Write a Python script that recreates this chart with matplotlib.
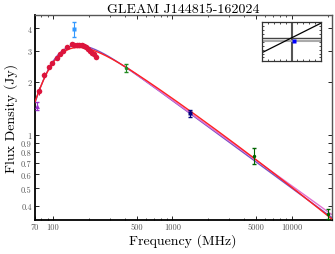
import numpy as np
import matplotlib
matplotlib.use("Agg")
import matplotlib.pyplot as plt
from matplotlib.ticker import FixedLocator, FixedFormatter, NullFormatter

plt.rcParams['font.family'] = 'serif'
plt.rcParams['font.serif'] = ['cmr10']
plt.rcParams['mathtext.fontset'] = 'cm'
plt.rcParams['axes.unicode_minus'] = False

# GLEAM sub-bands (MHz, Jy)
gleam_freq = [76, 84, 92, 99, 107, 115, 122, 130, 143, 151, 158, 166, 174, 181, 189, 197, 204, 212, 220, 227]
gleam_flux = [1.77, 2.18, 2.42, 2.55, 2.72, 2.88, 3.0, 3.15, 3.25, 3.24, 3.24, 3.23, 3.21, 3.2, 3.13, 3.06, 2.98, 2.92, 2.85, 2.76]
gleam_err = [0.09, 0.08, 0.07, 0.06, 0.06, 0.06, 0.06, 0.06, 0.06, 0.06, 0.06, 0.06, 0.06, 0.06, 0.06, 0.06, 0.06, 0.06, 0.07, 0.07]

vlss_freq, vlss_flux, vlss_err = [74], [1.46], [0.08]
tgss_freq, tgss_flux, tgss_err = [150], [3.95], [0.38]
mrc_freq, mrc_flux, mrc_err = [408], [2.4], [0.13]
nvss_freq, nvss_flux, nvss_err = [1400], [1.33], [0.06]
hf_freq = [4850, 20000]
hf_flux = [0.765, 0.36]
hf_err = [0.075, 0.025]

# model parameters: log S = a + b*log(nu/1GHz) + c*log(nu/1GHz)^2, times (1-exp(-tau))/tau
red_model = dict(a=0.207, b=-0.477, c=-0.025, nu_t=110.0, p=2.7)
purple_model = dict(a=0.195, b=-0.495, c=0.0, nu_t=114.0, p=2.75)

# inset: position offsets
inset_line_x = [-1.0, 1.0]
inset_line_y = [-0.55, 0.95]
inset_src = (0.1, 0.03)


def model(nu, a, b, c, nu_t, p):
    x = np.log10(nu / 1000.0)
    tau = (nu / nu_t) ** (-p)
    return 10 ** (a + b * x + c * x ** 2) * (1 - np.exp(-tau)) / tau


fig = plt.figure(figsize=(3.35, 2.55), dpi=100)
ax = fig.add_axes([0.103, 0.1345, 0.887, 0.8035])

# power law through the high-frequency points
hf_all_f = np.array(mrc_freq + nvss_freq + hf_freq, float)
hf_all_s = np.array(mrc_flux + nvss_flux + hf_flux, float)
pl_c = np.polyfit(np.log10(hf_all_f), np.log10(hf_all_s), 1)

nu = np.logspace(np.log10(70), np.log10(21500), 300)
nu_hi = np.logspace(np.log10(400), np.log10(21500), 200)
ax.plot(nu, model(nu, **purple_model), color='#7a4fc4', lw=1.0, zorder=2)
ax.plot(nu_hi, 10 ** np.polyval(pl_c, np.log10(nu_hi)), color='#e070d0', lw=1.0, zorder=2)
ax.plot(nu, model(nu, **red_model), color='#ff2020', lw=1.0, zorder=3)

ax.errorbar(gleam_freq, gleam_flux, yerr=gleam_err, fmt='o', color='#dc143c', ms=4, mec='none', elinewidth=0.8, capsize=0, zorder=4)
ax.errorbar(vlss_freq, vlss_flux, yerr=vlss_err, fmt='^', color='#9a32cd', ms=3.5, mec='none', elinewidth=0.8, capsize=1.5, zorder=4)
ax.errorbar(tgss_freq, tgss_flux, yerr=tgss_err, fmt='s', color='#3399ff', ms=3.5, mec='none', elinewidth=0.8, capsize=1.5, zorder=4)
ax.errorbar(mrc_freq, mrc_flux, yerr=mrc_err, fmt='o', color='#228b22', ms=2.5, mec='none', elinewidth=0.8, capsize=1.5, zorder=4)
ax.errorbar(nvss_freq, nvss_flux, yerr=nvss_err, fmt='s', color='#000080', ms=2.5, mec='none', elinewidth=0.8, capsize=1.5, zorder=4)
ax.errorbar(hf_freq, hf_flux, yerr=hf_err, fmt='o', color='#006400', ms=2.5, mec='none', elinewidth=0.8, capsize=1.5, zorder=4)

ax.set_xscale('log')
ax.set_yscale('log')
ax.set_xlim(70, 21500)
ax.set_ylim(0.333, 4.77)

xt = [70, 100, 500, 1000, 5000, 10000]
ax.xaxis.set_major_locator(FixedLocator(xt))
ax.xaxis.set_major_formatter(FixedFormatter([str(v) for v in xt]))
xm = [80, 90, 200, 300, 400, 600, 700, 800, 900, 2000, 3000, 4000, 6000, 7000, 8000, 9000, 20000]
ax.xaxis.set_minor_locator(FixedLocator(xm))
ax.xaxis.set_minor_formatter(NullFormatter())
yt = [0.4, 0.5, 0.6, 0.7, 0.8, 0.9, 1, 2, 3, 4]
ax.yaxis.set_major_locator(FixedLocator(yt))
ax.yaxis.set_major_formatter(FixedFormatter(['0.4', '0.5', '0.6', '0.7', '0.8', '0.9', '1', '2', '3', '4']))
ax.yaxis.set_minor_locator(FixedLocator([]))

ax.tick_params(which='both', direction='in', top=True, right=True, labelsize=6, labelcolor='#555555', pad=2)
ax.tick_params(which='major', length=3, width=0.6)
ax.tick_params(which='minor', length=1.5, width=0.5)
for s in ['left', 'bottom']:
    ax.spines[s].set_linewidth(1.3)
    ax.spines[s].set_color('black')
for s in ['top', 'right']:
    ax.spines[s].set_linewidth(1.0)
    ax.spines[s].set_color('#555555')

ax.set_title('GLEAM J144815-162024', fontsize=10, pad=2)
ax.set_xlabel('Frequency (MHz)', fontsize=10, labelpad=2)
ax.set_ylabel('Flux Density (Jy)', fontsize=10, labelpad=2)

# inset
ins = fig.add_axes([262.3 / 335, 1 - 62.3 / 255, 58.4 / 335, 39 / 255])
ins.set_xlim(-1, 1)
ins.set_ylim(-1, 1)
ins.axvline(0, color='#555555', lw=1.5)
ins.axhline(0.2, color='#444444', lw=1.0)
ins.axhline(inset_src[1], color='#aaaaaa', lw=1.5)
ins.plot(inset_line_x, inset_line_y, color='black', lw=0.9)
ins.plot([inset_src[0]], [inset_src[1]], 's', color='blue', ms=2.5, mec='none')
ins.set_xticks(np.linspace(-0.8, 0.8, 9))
ins.set_yticks(np.linspace(-0.8, 0.8, 9))
ins.tick_params(direction='in', top=True, right=True, length=1.5, width=0.5, labelbottom=False, labelleft=False)
for s in ins.spines.values():
    s.set_color('#333333')
    s.set_linewidth(0.9)

fig.savefig('out.png', dpi=100)
